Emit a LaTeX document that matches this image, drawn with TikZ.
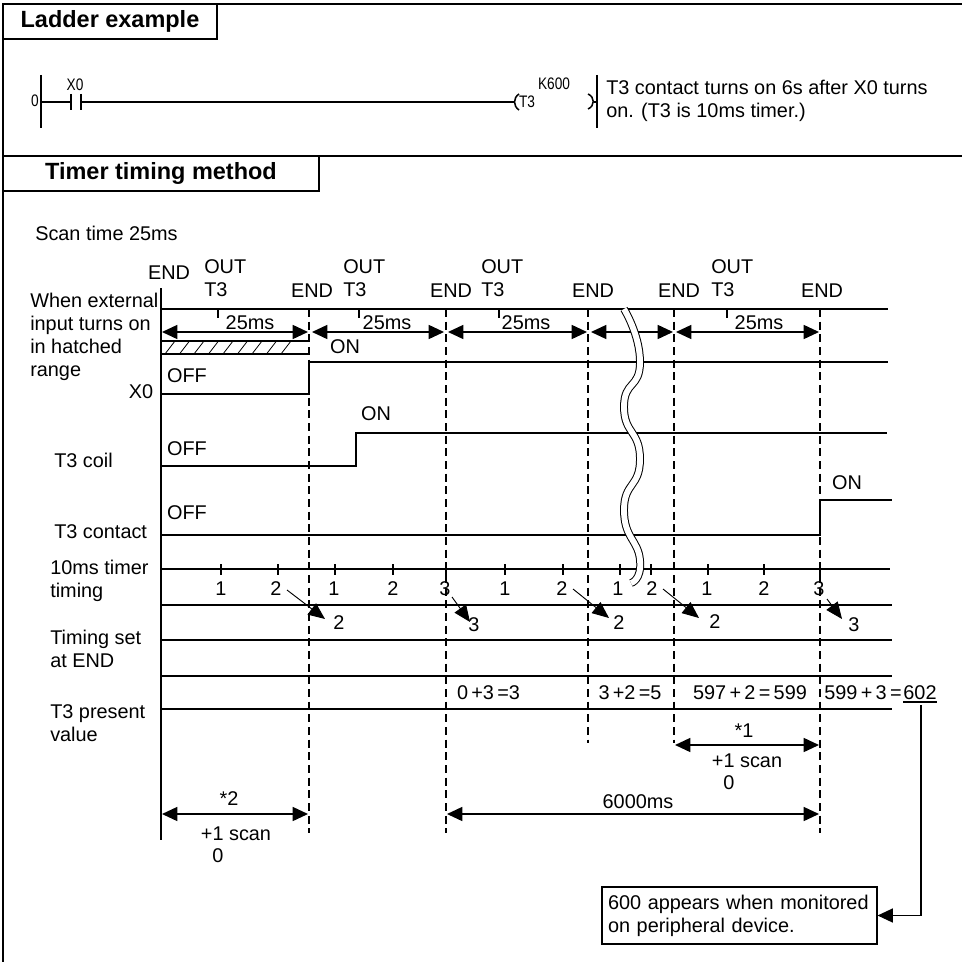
\documentclass[tikz,border=0pt]{standalone}
\usepackage{fontspec}
\setmainfont{Liberation Sans}
\newfontfamily\narrowfont[FakeStretch=0.82]{Liberation Sans}
\usetikzlibrary{arrows.meta,positioning,calc}

\begin{document}
\begin{tikzpicture}[x=0.75pt,y=-0.75pt,
   font=\fontsize{14.9}{17.4}\selectfont,
   lab/.style={inner sep=0pt,text height=10.6pt,text depth=0pt},
   llab/.style={lab,anchor=west},
   mlab/.style={inner sep=0pt,align=left,anchor=west},
   small/.style={inner sep=0pt,font=\narrowfont\fontsize{12.5}{14}\selectfont},
   head/.style={draw,line width=0.8pt,inner sep=0pt,minimum height=26.25pt,
                font=\bfseries\fontsize{17.6}{20}\selectfont},
   frameline/.style={line width=0.8pt},
   trace/.style={line width=1.15pt},
   thinw/.style={line width=0.8pt},
   endline/.style={line width=1.15pt,dash pattern=on 6pt off 3.5pt},
   span/.style={line width=1.15pt,{Triangle[length=11.5pt,width=10.5pt]}-{Triangle[length=11.5pt,width=10.5pt]}},
   spanr/.style={line width=1.15pt,-{Triangle[length=11.5pt,width=10.5pt]}},
   slant/.style={line width=0.7pt,-{Triangle[length=12.5pt,width=10.5pt]}}]
  \useasboundingbox (0,0) rectangle (962,962);

  % frame and titles
  \draw[frameline] (3,962) -- (3,4) -- (962,4);
  \draw[frameline] (3,156) -- (962,156);
  \node[head,minimum width=160.5pt] (ladder) at (110,21.5) {Ladder example};
  \node[head,minimum width=237pt] (method) at (161,173.5) {Timer timing method};

  % ladder
  \draw[trace] (41,75) -- (41,128);
  \draw[trace] (597,75) -- (597,128);
  \draw[thinw] (41,102) -- (71,102);
  \draw[trace] (71,94) -- (71,110);
  \draw[trace] (81,94) -- (81,110);
  \draw[thinw] (81,102) -- (514,102);
  \draw[trace] (519,94) .. controls (513,98) and (513,106) .. (519,110);
  \draw[trace] (588,94) .. controls (595,97) and (595,106) .. (588,109);
  \draw[thinw] (594,102) -- (597,102);
  \node[small] (rung) at (35,101) {0};
  \node[small] (xzero) at (75,85) {X0};
  \node[small] (coil) at (527,102) {T3};
  \node[small] (kval) at (554,84) {K600};
  \node[mlab] (remark) at (606,101) {T3 contact turns on 6s after X0 turns\\on. (T3 is 10ms timer.)};

  % scan line and rail
  \node[llab] (scan) at (35,233) {Scan time 25ms};
  \draw[trace] (161,288) -- (161,840);
  \draw[trace] (161,309) -- (888,309);
  \foreach \x in {218,359,499,727}
    \draw[thinw] (\x,309) -- (\x,318);
  \foreach \x/\y in {309/833,446/833,588/743,674/743,820/833}
    \draw[endline] (\x,309) -- (\x,\y);

  % hatched range
  \draw[trace] (161,341) -- (309,341);
  \draw[trace] (161,354) -- (309,354);
  \foreach \x in {165,179.5,...,295}
    \draw[line width=0.6pt] (\x,354) -- (\x+10,341);

  % scan widths
  \foreach \a/\b in {162/308,312/444,448/587,591/673,676/819}
    \draw[span] (\a,332) -- (\b,332);

  % signals
  \draw[trace] (161,394) -- (309,394) -- (309,362) -- (888,362);
  \draw[trace] (161,466) -- (356,466) -- (356,433) -- (887,433);
  \draw[trace] (161,535) -- (820,535) -- (820,500) -- (892,500);
  \draw[trace] (161,569) -- (890,569);
  \foreach \x in {221,278,335,393,446,505,563,620,651,708,764,820}
    \draw[thinw] (\x,564) -- (\x,575);
  \foreach \y in {605,640,676,709}
    \draw[trace] (161,\y) -- (892,\y);

  % break in the time axis
  \draw[line width=0.75pt,double=white,double distance=4.4pt] plot[smooth,tension=1] coordinates
    {(624,309) (640,362) (624,407) (640,459) (624,510) (640,560) (631,583)};

  % header labels
  \node[lab] (e0) at (169,272) {END};
  \foreach \i/\x in {1/312,2/451,3/593,4/679,5/822}
    \node[lab] (e\i) at (\x,290) {END};
  \foreach \i/\x in {1/204,2/343,3/481,4/711}{
    \node[llab] (out\i) at (\x,266) {OUT};
    \node[llab] (tt\i) at (\x,289) {T3};
  }
  \foreach \i/\x in {1/250,2/387,3/526,4/759}
    \node[lab] (ms\i) at (\x,322) {25ms};

  % signal labels
  \node[mlab] (when) at (30,337) {When external\\input turns on\\in hatched\\range};
  \node[lab] (nxzero) at (141,391) {X0};
  \node[llab] (ncoil) at (54,460) {T3 coil};
  \node[llab] (ncont) at (54,531) {T3 contact};
  \node[mlab] (ntim) at (50,581) {10ms timer\\timing};
  \node[mlab] (nset) at (50,649) {Timing set\\at END};
  \node[mlab] (npres) at (50,723) {T3 present\\value};
  \node[lab] (on1) at (345,346) {ON};
  \node[lab] (off1) at (187,375) {OFF};
  \node[lab] (on2) at (376,413) {ON};
  \node[lab] (off2) at (187,448) {OFF};
  \node[lab] (on3) at (847,482) {ON};
  \node[lab] (off3) at (187,512) {OFF};

  % timer counts
  \foreach \i/\x/\t in {1/221/1,2/276/2,3/334/1,4/393/2,5/445/3,6/505/1,
                        7/562/2,8/618/1,9/652/2,10/707/1,11/764/2,12/819/3}
    \node[lab] (c\i) at (\x,588) {\t};
  \foreach \i/\x/\y/\t in {1/339/622/2,2/474/624/3,3/619/622/2,4/715/621/2,5/854/624/3}
    \node[lab] (s\i) at (\x,\y) {\t};
  \foreach \i/\ax/\ay/\bx/\by in {1/287/590/325/619,2/452/597/470/622,3/573/589/609/618,
                                  4/663/589/699/618,5/827/599/842/619}{
    \coordinate (ta\i) at (\ax,\ay);
    \coordinate (tb\i) at (\bx,\by);
    \draw[slant] (ta\i) -- (tb\i);
  }

  % present value
  \node[lab] (sum1) at (488.5,692) {0\,+3\,=3};
  \node[lab] (sum2) at (630,692) {3\,+2\,=5};
  \node[lab] (sum3) at (750,692) {597\,+\,2\,=\,599};
  \node[lab] (sum4) at (863,692) {599\,+\,3\,=};
  \node[lab] (total) at (920,692) {602};
  \coordinate (ula) at (903,702);
  \coordinate (ulb) at (937,702);
  \draw[thinw] (ula) -- (ulb);

  % dimensions below
  \node[lab] (star1) at (744,730) {*1};
  \draw[span] (675,745) -- (819,745);
  \node[lab] (plus1) at (747,760) {+1 scan};
  \node[lab] (zero1) at (729,782) {0};
  \node[lab] (total2) at (638,801) {6000ms};
  \draw[span] (447,814) -- (819,814);
  \node[lab] (star2) at (229,798) {*2};
  \draw[span] (162,814) -- (308,814);
  \node[lab] (plus2) at (236,833) {+1 scan};
  \node[lab] (zero2) at (218,855) {0};

  % note
  \node[draw,line width=0.8pt,inner xsep=4.5pt,inner ysep=0pt,minimum height=42.75pt,
        text width=197.25pt,align=left] (note) at (739.5,915.5)
       {600 appears when monitored\\on peripheral device.};
  \coordinate (totb) at (921,705);
  \draw[spanr] (totb) |- (note.east);
\end{tikzpicture}
\end{document}
